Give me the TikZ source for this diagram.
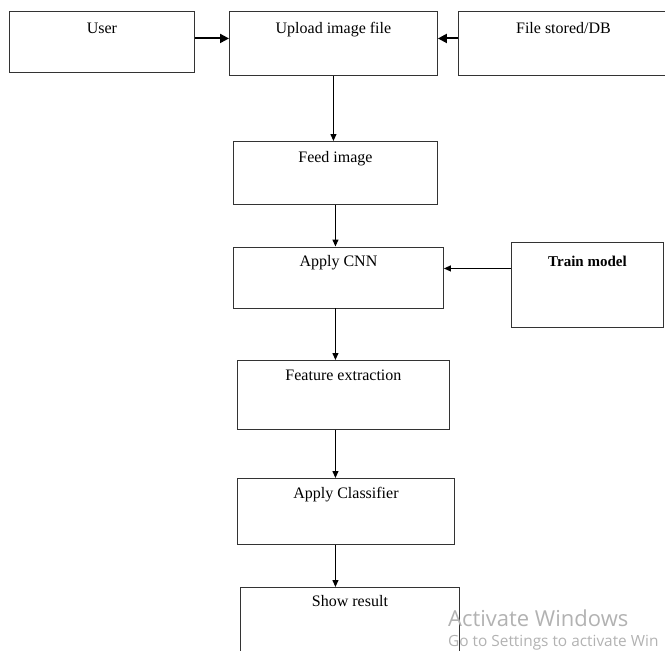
\documentclass[tikz,border=0pt]{standalone}
\usepackage{fontspec}
\setmainfont{Liberation Serif}
\newfontfamily\wmfont{Open Sans}
\usetikzlibrary{arrows.meta,calc}
\tikzset{>={Triangle[length=7pt,width=6pt]},
  blk/.style={draw=black!80,line width=.9pt,anchor=north west,inner sep=0pt,font=\fontsize{16}{19}\selectfont},
  flow/.style={->,line width=1.1pt},
  side/.style={->,line width=2pt,>={Triangle[length=9pt,width=9pt]}},
  wm/.style={anchor=base west,inner sep=0pt,text=black!30}}

\begin{document}
\begin{tikzpicture}[x=1pt,y=-1pt]
\useasboundingbox (0,0) rectangle (665,651);
\clip (0,0) rectangle (665,651);
% top row
\node[blk,minimum width=185pt,text height=22.5pt,text depth=38.5pt] (usr) at (9,11) {User};
\node[blk,minimum width=208pt,text height=22.5pt,text depth=41.5pt] (up) at (229,11) {Upload image file};
\node[blk,minimum width=210pt,text height=22.5pt,text depth=41.5pt] (db) at (458,11) {File stored/DB};
% main column
\node[blk,minimum width=204pt,text height=21.5pt,text depth=41.5pt] (feed) at (233,141) {Feed image};
\node[blk,minimum width=210pt,text height=20pt,text depth=41pt] (cnn) at (233,246.5) {Apply CNN};
\node[blk,minimum width=152pt,text height=24pt,text depth=61pt,font=\bfseries\fontsize{15}{18}\selectfont] (tr) at (511,242) {Train model};
\node[blk,minimum width=212pt,text height=20pt,text depth=49pt] (feat) at (237,360) {Feature extraction};
\node[blk,minimum width=217pt,text height=20pt,text depth=46pt] (clf) at (237,478) {Apply Classifier};
\node[blk,minimum width=219pt,text height=19pt,text depth=61pt] (res) at (240,587) {Show result};
% connectors
\draw[side] ([yshift=3.5pt]usr.east) -- ([yshift=3.5pt]usr.east -| up.west);
\draw[side] ([yshift=5pt]db.west) -- ([yshift=5pt]db.west -| up.east);
\draw[flow] (up.south) -- (up.south |- feed.north);
\draw[flow] (feed.south) -- (feed.south |- cnn.north);
\draw[flow] ([yshift=-1.5pt]tr.west |- cnn.base) -- ([yshift=-1.5pt]cnn.east |- cnn.base);
\draw[flow] (feed.south |- cnn.south) -- (feed.south |- feat.north);
\draw[flow] (feed.south |- feat.south) -- (feed.south |- clf.north);
\draw[flow] (feed.south |- clf.south) -- (feed.south |- res.north);
% watermark
\node[wm,font=\wmfont\fontsize{22}{26}\selectfont] (wma) at (448,626) {Activate Windows};
\node[wm,font=\wmfont\fontsize{15.4}{18}\selectfont] (wmb) at (448,646) {Go to Settings to activate Win};
\end{tikzpicture}
\end{document}
